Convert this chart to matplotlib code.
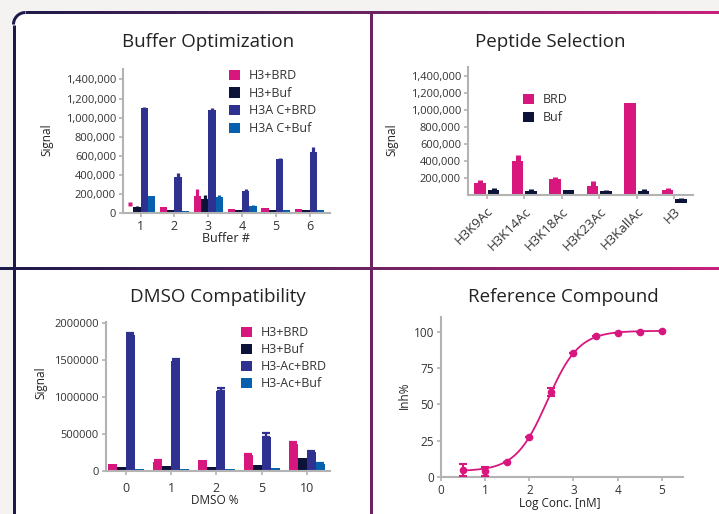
import numpy as np
import matplotlib
matplotlib.use("Agg")
import matplotlib.pyplot as plt
from matplotlib.patches import FancyBboxPatch, Patch
from matplotlib.colors import LinearSegmentedColormap

plt.rcParams['font.family'] = ['Open Sans', 'DejaVu Sans']

# ---------------- data ----------------
PINK = '#d8177e'
NAVY = '#0c1238'
PURPLE = '#2f3191'
BLUE = '#0760ad'

buf_groups = ['1', '2', '3', '4', '5', '6']
buf_h3_brd = [0, 60000, 175000, 39000, 49000, 39000]
buf_h3_brd_err = [0, 0, 75000, 0, 0, 0]
buf_h3_brd_point = [98000, None, None, None, None, None]
buf_h3_buf = [63000, 28000, 144000, 28000, 28000, 28000]
buf_h3_buf_err = [14000, 0, 42000, 0, 0, 0]
buf_h3ac_brd = [1097000, 375000, 1081000, 228000, 565000, 639000]
buf_h3ac_brd_err = [14000, 43000, 21000, 21000, 10000, 52000]
buf_h3ac_buf = [175000, 18000, 165000, 70000, 28000, 28000]
buf_h3ac_buf_err = [0, 0, 21000, 11000, 0, 0]
buf_labels = ['H3+BRD', 'H3+Buf', 'H3A C+BRD', 'H3A C+Buf']
buf_yticks = [0, 200000, 400000, 600000, 800000, 1000000, 1200000, 1400000]

pep_names = ['H3K9Ac', 'H3K14Ac', 'H3K18Ac', 'H3K23Ac', 'H3KallAc', 'H3']
pep_brd = [141000, 395000, 187000, 105000, 1074000, 59000]
pep_brd_err = [35000, 70000, 20000, 55000, 0, 23000]
pep_buf = [59000, 43000, 55000, 47000, 43000, -90000]
pep_buf_start = [0, 0, 0, 0, 0, -47000]
pep_buf_err = [23000, 23000, 0, 8000, 23000, 12000]
pep_yticks = [200000, 400000, 600000, 800000, 1000000, 1200000, 1400000]

dmso_groups = ['0', '1', '2', '5', '10']
dmso_h3_brd = [94000, 121000, 148000, 215000, 363000]
dmso_h3_brd_err = [0, 27000, 0, 14000, 27000]
dmso_h3_buf = [58000, 67000, 58000, 81000, 179000]
dmso_h3_buf_err = [0, 0, 0, 0, 0]
dmso_h3ac_brd = [1830000, 1480000, 1076000, 457000, 256000]
dmso_h3ac_brd_err = [35000, 36000, 49000, 50000, 13000]
dmso_h3ac_buf = [31000, 31000, 31000, 45000, 94000]
dmso_h3ac_buf_err = [0, 0, 0, 0, 14000]
dmso_labels = ['H3+BRD', 'H3+Buf', 'H3-Ac+BRD', 'H3-Ac+Buf']
dmso_yticks = [0, 500000, 1000000, 1500000, 2000000]

ref_logc = [0.5, 1.0, 1.5, 2.0, 2.5, 3.0, 3.5, 4.0, 4.5, 5.0]
ref_inh = [4.9, 3.9, 10.4, 27.5, 58.6, 85.2, 96.8, 99.3, 100.0, 100.2]
ref_err = [4.3, 2.9, 0, 0, 2.8, 0, 0, 0, 0, 0]
# 4PL fit parameters
fit_bottom, fit_top, fit_logic50, fit_hill = 4.0, 100.5, 2.405, 1.215

# ---------------- figure ----------------
W, H = 719, 514
fig = plt.figure(figsize=(W / 100, H / 100), dpi=100, facecolor='#f4f3f1')

bg = fig.add_axes([0, 0, 1, 1], zorder=-5)
bg.axis('off')
bg.add_patch(FancyBboxPatch((13.5, 12.5), 900, 700, boxstyle='round,pad=0,rounding_size=12',
                            fc='white', ec='none'))
cmap = LinearSegmentedColormap.from_list('fr', ['#1b1a4a', '#6a2462', '#c8207c'])
LEFTC = '#1b1a4a'
LW = 3.0  # pixels


def grad_hline(x0, x1, y):
    g = np.linspace(x0 / W, x1 / W, 400)[None, :]
    bg.imshow(g, cmap=cmap, vmin=0, vmax=1, extent=[x0, x1, y + LW / 2, y - LW / 2],
              aspect='auto', interpolation='bilinear', zorder=2)


r = 12
cx, cy = 13.5 + r, 12.5 + r
grad_hline(cx, W, 12.5)
grad_hline(0, W, 268.5)
th = np.linspace(np.pi, 1.5 * np.pi, 40)
bg.plot(cx + r * np.cos(th), cy + r * np.sin(th), color=LEFTC, lw=LW * 0.72,
        solid_capstyle='butt', zorder=2)
bg.plot([13.5, 13.5], [cy, H], color=LEFTC, lw=LW * 0.72, solid_capstyle='butt', zorder=2)
bg.plot([370.5, 370.5], [12.5, H], color='#6a2462', lw=LW * 0.72, solid_capstyle='butt', zorder=2)
bg.set_xlim(0, W)
bg.set_ylim(H, 0)

SP = '#b3b3b3'
TXT = '#222222'


def mk_axes(l, t, rgt, b):
    ax = fig.add_axes([l / W, 1 - b / H, (rgt - l) / W, (b - t) / H])
    ax.set_facecolor('none')
    for s in ['top', 'right']:
        ax.spines[s].set_visible(False)
    for s in ['left', 'bottom']:
        ax.spines[s].set_color(SP)
        ax.spines[s].set_linewidth(1.5)
    ax.tick_params(colors=SP, labelcolor='#333333', labelsize=8, width=1.2, length=3, pad=2)
    return ax


def ftext(x, y, s, size, **kw):
    fig.text(x / W, 1 - y / H, s, fontsize=size, color=TXT, ha='center', va='center', **kw)


def stubs(ax, x, top, err, lw, c):
    for xi, ti, ei in zip(x, top, err):
        if ei:
            ax.plot([xi, xi], [ti, ti + ei], color=c, lw=lw, solid_capstyle='butt', zorder=2)


def square_legend(colors, labels, x, y, sp):
    handles = [Patch(facecolor=c, edgecolor='none') for c in colors]
    fig.legend(handles, labels, loc='upper left', bbox_to_anchor=(x / W, 1 - y / H),
               frameon=False, fontsize=9, handlelength=0.9, handleheight=0.9,
               handletextpad=0.7, labelspacing=sp, borderpad=0, borderaxespad=0,
               labelcolor='#333333')


# ---------- Buffer Optimization ----------
ax = mk_axes(123, 69, 330, 213)
xb = np.arange(1, len(buf_groups) + 1)
w = 0.215
series = [(buf_h3_brd, buf_h3_brd_err, PINK), (buf_h3_buf, buf_h3_buf_err, NAVY),
          (buf_h3ac_brd, buf_h3ac_brd_err, PURPLE), (buf_h3ac_buf, buf_h3ac_buf_err, BLUE)]
for i, (vals, errs, c) in enumerate(series):
    xs = xb + (i - 1.5) * w
    ax.bar(xs, vals, width=w, color=c, edgecolor='none', zorder=2)
    stubs(ax, xs, vals, errs, 2.3, c)
for xi, p in zip(xb, buf_h3_brd_point):
    if p is not None:
        ax.plot([xi - 1.5 * w], [p], marker='s', ms=3.2, color=PINK, mec='none', zorder=3)
ax.set_xlim(0.48, 6.6)
ax.set_ylim(0, 1510000)
ax.set_xticks(xb)
ax.set_xticklabels(buf_groups, fontsize=9)
ax.set_yticks(buf_yticks)
ax.set_yticklabels([f'{v:,}' for v in buf_yticks])
ftext(208, 42, 'Buffer Optimization', 13.5)
ftext(47, 140, 'Signal', 8.5, rotation=90)
ftext(226, 238, 'Buffer #', 9)
square_legend([PINK, NAVY, PURPLE, BLUE], buf_labels, 229, 69, 0.38)

# ---------- Peptide Selection ----------
ax = mk_axes(468, 67, 693, 205)
xp = np.arange(len(pep_names))
w = 0.305
ax.bar(xp - 0.18, pep_brd, width=w, color=PINK, edgecolor='none', zorder=2)
stubs(ax, xp - 0.18, pep_brd, pep_brd_err, 3.6, PINK)
ax.bar(xp + 0.18, np.array(pep_buf) - np.array(pep_buf_start), bottom=pep_buf_start, width=w,
       color=NAVY, edgecolor='none', zorder=2)
buf_top = [v if s == 0 else s for v, s in zip(pep_buf, pep_buf_start)]
stubs(ax, xp + 0.18, buf_top, pep_buf_err, 3.6, NAVY)
ax.set_xlim(-0.5, 5.5)
ax.set_ylim(-117000, 1500000)
ax.spines['bottom'].set_position(('data', 0))
ax.spines['left'].set_bounds(0, 1500000)
ax.spines['bottom'].set_zorder(3)
ax.set_xticks(xp)
ax.set_xticklabels(pep_names, rotation=45, ha='right', rotation_mode='anchor', fontsize=9.5)
ax.tick_params(axis='x', pad=4)
ax.set_yticks(pep_yticks)
ax.set_yticklabels([f'{v:,}' for v in pep_yticks])
ftext(550, 42, 'Peptide Selection', 13.5)
ftext(392, 140, 'Signal', 8.5, rotation=90)
square_legend([PINK, NAVY], ['BRD', 'Buf'], 523, 93, 0.42)

# ---------- DMSO Compatibility ----------
ax = mk_axes(106, 322, 330, 471)
xd = np.arange(len(dmso_groups))
w = 0.2
series = [(dmso_h3_brd, dmso_h3_brd_err, PINK), (dmso_h3_buf, dmso_h3_buf_err, NAVY),
          (dmso_h3ac_brd, dmso_h3ac_brd_err, PURPLE), (dmso_h3ac_buf, dmso_h3ac_buf_err, BLUE)]
for i, (vals, errs, c) in enumerate(series):
    xs = xd + (i - 1.5) * w
    ax.bar(xs, vals, width=w, color=c, edgecolor='none', zorder=2)
    e = np.array(errs)
    m = e > 0
    if m.any():
        ax.errorbar(xs[m], np.array(vals)[m], yerr=[np.zeros(m.sum()), e[m]], fmt='none',
                    ecolor=c, elinewidth=1.6, capsize=2.6, capthick=1.6, zorder=2)
ax.set_xlim(-0.44, 4.51)
ax.set_ylim(0, 2010000)
ax.set_xticks(xd)
ax.set_xticklabels(dmso_groups, fontsize=9)
ax.tick_params(axis='x', pad=5)
ax.set_yticks(dmso_yticks)
ax.set_yticklabels([str(v) for v in dmso_yticks])
ftext(218, 297, 'DMSO Compatibility', 13.5)
ftext(41, 383, 'Signal', 8.5, rotation=90)
ftext(215, 501, 'DMSO %', 8.5)
square_legend([PINK, NAVY, PURPLE, BLUE], dmso_labels, 241, 326, 0.33)

# ---------- Reference Compound ----------
ax = mk_axes(441, 317, 683, 477)
xc = np.linspace(0.5, 5.0, 300)
yc = fit_bottom + (fit_top - fit_bottom) / (1 + 10 ** ((fit_logic50 - xc) * fit_hill))
ax.plot(xc, yc, color=PINK, lw=1.3, zorder=2)
ax.errorbar(ref_logc, ref_inh, yerr=ref_err, fmt='o', ms=4.5, color=PINK, ecolor=PINK,
            elinewidth=1.5, capsize=2.6, capthick=1.5, zorder=3, clip_on=False)
ax.set_xlim(0, 5.48)
ax.set_ylim(0, 110)
ax.set_xticks([0, 1, 2, 3, 4, 5])
ax.set_yticks([0, 25, 50, 75, 100])
ax.tick_params(labelsize=8.5)
ftext(563, 297, 'Reference Compound', 13.5)
ftext(404, 395, 'Inh%', 8.5, rotation=90)
ftext(560, 504, 'Log Conc. [nM]', 8.5)

fig.savefig('out.png', dpi=100, facecolor=fig.get_facecolor())
